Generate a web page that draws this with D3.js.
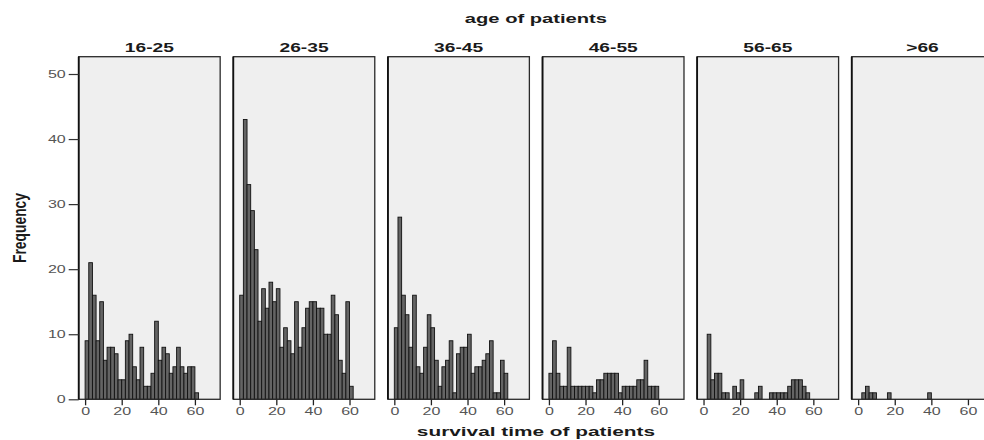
<!DOCTYPE html>
<html>
<head>
<meta charset="utf-8">
<script src="https://cdn.jsdelivr.net/npm/d3@7"></script>
<style>
  body { margin: 0; background: #fff; }
  text { font-family: "Liberation Sans", Arial, sans-serif; }
</style>
</head>
<body>
<script>
// age groups (one panel each)
const ageGroups = ["16-25", "26-35", "36-45", "46-55", "56-65", ">66"];

// lower edge of each survival-time bin, bins are 2 wide
const binStarts = [0, 2, 4, 6, 8, 10, 12, 14, 16, 18, 20, 22, 24, 26, 28, 30,
                   32, 34, 36, 38, 40, 42, 44, 46, 48, 50, 52, 54, 56, 58, 60];
const binWidth = 2;

// frequency per bin
const freq16_25 = [9, 21, 16, 9, 15, 6, 8, 8, 7, 3, 3, 9, 10, 5, 3, 8, 2, 2, 4, 12, 6, 8, 7, 4, 5, 8, 5, 4, 5, 5, 1];
const freq26_35 = [16, 43, 33, 29, 23, 12, 17, 14, 18, 15, 17, 8, 11, 9, 7, 15, 8, 11, 14, 15, 15, 14, 14, 10, 10, 16, 13, 6, 4, 15, 2];
const freq36_45 = [11, 28, 16, 13, 8, 16, 5, 4, 8, 13, 11, 6, 2, 5, 6, 9, 1, 7, 8, 8, 10, 4, 5, 5, 6, 7, 9, 1, 1, 6, 4];
const freq46_55 = [4, 9, 4, 2, 2, 8, 2, 2, 2, 2, 2, 2, 1, 3, 3, 4, 4, 4, 4, 1, 2, 2, 2, 2, 3, 3, 6, 2, 2, 2, 0];
const freq56_65 = [0, 10, 3, 4, 4, 1, 1, 0, 2, 1, 3, 0, 0, 0, 1, 2, 0, 0, 1, 1, 1, 1, 1, 2, 3, 3, 3, 2, 1, 0, 0];
const freq66up  = [0, 1, 2, 1, 1, 0, 0, 0, 1, 0, 0, 0, 0, 0, 0, 0, 0, 0, 0, 1, 0, 0, 0, 0, 0, 0, 0, 0, 0, 0, 0];
const freqByGroup = [freq16_25, freq26_35, freq36_45, freq46_55, freq56_65, freq66up];

const yTicks = [0, 10, 20, 30, 40, 50];
const xTicks = [0, 20, 40, 60];

const W = 984, H = 440;
const plotTop = 56.7, plotBase = 399.3;
const stretchK = 1.6; // the picture is squashed wide

// make text look as wide as in the picture
function stretch(sel, k) {
  sel.each(function () {
    const l = this.getComputedTextLength();
    d3.select(this).attr("textLength", l * k).attr("lengthAdjust", "spacingAndGlyphs");
  });
}

const svg = d3.select("body").append("svg").attr("width", W).attr("height", H);

const panelX = d3.scaleBand().domain(ageGroups).range([78.7, 993.2]).paddingInner(0.085);
const x = d3.scaleLinear().domain([-3.5, 73.8]).range([0, panelX.bandwidth()]);
const y = d3.scaleLinear().domain([0, 52.66]).range([plotBase, plotTop]);

ageGroups.forEach((grp, gi) => {
  const g = svg.append("g").attr("transform", `translate(${panelX(grp)},0)`);

  g.append("rect")
    .attr("x", 0).attr("y", plotTop)
    .attr("width", panelX.bandwidth()).attr("height", plotBase - plotTop)
    .attr("fill", "#efefef");

  const bars = binStarts.map((b, i) => ({ b: b, v: freqByGroup[gi][i] })).filter(d => d.v > 0);
  g.selectAll("rect.bar")
    .data(bars)
    .enter()
    .append("rect")
    .attr("class", "bar")
    .attr("x", d => x(d.b))
    .attr("width", d => x(d.b + binWidth) - x(d.b))
    .attr("y", d => y(d.v))
    .attr("height", d => y(0) - y(d.v))
    .attr("fill", "#646464")
    .attr("stroke", "#111")
    .attr("stroke-width", 0.9);

  g.append("rect")
    .attr("x", 0).attr("y", plotTop)
    .attr("width", panelX.bandwidth()).attr("height", plotBase - plotTop)
    .attr("fill", "none")
    .attr("stroke", "#2a2a2a")
    .attr("stroke-width", 1.3);

  // left edge is drawn a bit heavier in the picture
  g.append("line")
    .attr("x1", 0).attr("x2", 0)
    .attr("y1", plotTop).attr("y2", plotBase)
    .attr("stroke", "#111")
    .attr("stroke-width", 1.8);

  const xa = g.append("g")
    .attr("transform", `translate(0,${plotBase})`)
    .call(d3.axisBottom(x).tickValues(xTicks).tickSize(6).tickPadding(3).tickFormat(d3.format("d")));
  xa.select(".domain").remove();
  xa.selectAll("line").attr("stroke", "#222").attr("stroke-width", 1.3);
  xa.selectAll("text").attr("font-size", 10).attr("fill", "#555").call(stretch, stretchK);

  g.append("text")
    .attr("x", panelX.bandwidth() / 2)
    .attr("y", 52)
    .attr("text-anchor", "middle")
    .attr("font-size", 12)
    .attr("font-weight", "bold")
    .attr("fill", "#1a1a1a")
    .text(grp)
    .call(stretch, stretchK);

  if (gi === 0) {
    const ya = g.append("g")
      .call(d3.axisLeft(y).tickValues(yTicks).tickSize(10).tickPadding(3));
    ya.select(".domain").remove();
    ya.selectAll("line").attr("stroke", "#333").attr("stroke-width", 1.2);
    ya.selectAll("text").attr("font-size", 10).attr("fill", "#555").call(stretch, stretchK);
  }
});

const midX = (panelX.range()[0] + panelX.range()[1]) / 2;

svg.append("text")
  .attr("x", midX).attr("y", 23)
  .attr("text-anchor", "middle")
  .attr("font-size", 13).attr("font-weight", "bold").attr("fill", "#1a1a1a")
  .text("age of patients")
  .call(stretch, 1.55);

svg.append("text")
  .attr("x", midX).attr("y", 436)
  .attr("text-anchor", "middle")
  .attr("font-size", 13).attr("font-weight", "bold").attr("fill", "#1a1a1a")
  .text("survival time of patients")
  .call(stretch, 1.6);

svg.append("text")
  .attr("transform", "translate(26,228) scale(1.5,1) rotate(-90)")
  .attr("text-anchor", "middle")
  .attr("font-size", 12).attr("font-weight", "bold").attr("fill", "#1a1a1a")
  .text("Frequency")
  .attr("textLength", 70).attr("lengthAdjust", "spacingAndGlyphs");
</script>
</body>
</html>
